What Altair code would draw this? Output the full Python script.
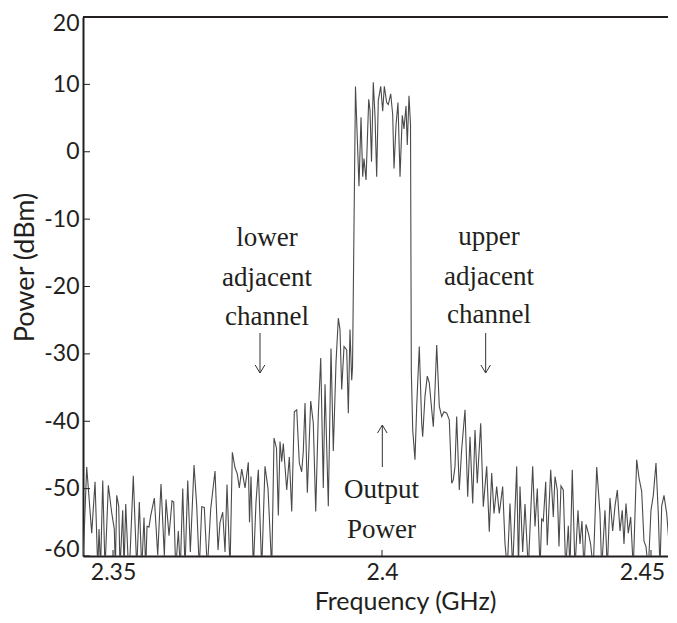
import altair as alt
import pandas as pd

# ---- spectrum trace (GHz, dBm) ----
freq = [
    2.34442, 2.34511, 2.34604, 2.34666, 2.34716, 2.34740, 2.34768, 2.34809, 2.34851, 2.34913,
    2.34976, 2.35024, 2.35043, 2.35069, 2.35106, 2.35130, 2.35180, 2.35205, 2.35236, 2.35288,
    2.35316, 2.35377, 2.35441, 2.35489, 2.35534, 2.35576, 2.35608, 2.35632, 2.35669, 2.35701,
    2.35768, 2.35831, 2.35892, 2.35954, 2.35985, 2.36041, 2.36097, 2.36128, 2.36165, 2.36214,
    2.36251, 2.36296, 2.36338, 2.36389, 2.36437, 2.36506, 2.36556, 2.36604, 2.36649, 2.36697,
    2.36753, 2.36816, 2.36896, 2.36952, 2.36989, 2.37039, 2.37082, 2.37119, 2.37175, 2.37218,
    2.37268, 2.37310, 2.37348, 2.37392, 2.37454, 2.37515, 2.37537, 2.37565, 2.37608, 2.37658,
    2.37701, 2.37764, 2.37825, 2.37881, 2.37950, 2.37993, 2.38039, 2.38073, 2.38104, 2.38136,
    2.38165, 2.38229, 2.38277, 2.38322, 2.38370, 2.38415, 2.38463, 2.38507, 2.38537, 2.38569,
    2.38612, 2.38675, 2.38723, 2.38768, 2.38816, 2.38861, 2.38909, 2.38941, 2.39002, 2.39052,
    2.39095, 2.39145, 2.39188, 2.39219, 2.39251, 2.39294, 2.39344, 2.39374, 2.39405, 2.39437,
    2.39452, 2.39507, 2.39572, 2.39610, 2.39641, 2.39665, 2.39703, 2.39753, 2.39777, 2.39805,
    2.39838, 2.39870, 2.39901, 2.39931, 2.39976, 2.40013, 2.40043, 2.40087, 2.40117, 2.40162,
    2.40199, 2.40223, 2.40260, 2.40297, 2.40335, 2.40377, 2.40409, 2.40446, 2.40470, 2.40502,
    2.40530, 2.40545, 2.40571, 2.40613, 2.40645, 2.40693, 2.40738, 2.40756, 2.40799, 2.40842,
    2.40879, 2.40924, 2.40954, 2.40985, 2.41017, 2.41065, 2.41110, 2.41152, 2.41203, 2.41251,
    2.41296, 2.41325, 2.41357, 2.41388, 2.41437, 2.41481, 2.41543, 2.41593, 2.41636, 2.41686,
    2.41729, 2.41771, 2.41835, 2.41883, 2.41946, 2.41994, 2.42039, 2.42082, 2.42132, 2.42180,
    2.42243, 2.42286, 2.42329, 2.42379, 2.42429, 2.42504, 2.42537, 2.42565, 2.42615, 2.42658,
    2.42719, 2.42801, 2.42844, 2.42887, 2.42937, 2.42968, 2.42998, 2.43043, 2.43072, 2.43136,
    2.43184, 2.43216, 2.43258, 2.43290, 2.43327, 2.43370, 2.43414, 2.43463, 2.43494, 2.43537,
    2.43587, 2.43643, 2.43680, 2.43717, 2.43755, 2.43792, 2.43842, 2.43879, 2.43927, 2.43991,
    2.44052, 2.44084, 2.44145, 2.44188, 2.44238, 2.44288, 2.44331, 2.44374, 2.44424, 2.44466,
    2.44498, 2.44535, 2.44578, 2.44623, 2.44671, 2.44734, 2.44777, 2.44827, 2.44870, 2.44907,
    2.44950, 2.45000, 2.45043, 2.45093, 2.45136, 2.45167, 2.45199, 2.45242, 2.45292, 2.45340,
    2.45385, 2.45414, 2.45452, 2.45483,
]
power = [
    -61, -46.8, -56.6, -49, -62, -56, -62, -48.8, -62, -49.5,
    -53.6, -56, -62, -51, -52.6, -62, -53.2, -62, -52.3, -62,
    -60, -48.1, -62, -52, -62, -54.3, -62, -55.6, -55.7, -54,
    -51.4, -59.9, -49.3, -60, -51.6, -57, -51.8, -52, -62, -56.3,
    -62, -50, -62, -48.8, -59.4, -46.5, -52.6, -62, -52.7, -52.8,
    -62, -53, -47.4, -59.1, -55, -53.5, -59.4, -49.4, -62, -44.6,
    -46.9, -47.8, -49.9, -47.1, -49.9, -46.1, -55, -48.2, -62, -52,
    -47.2, -62, -46.7, -50, -62, -42.5, -44, -54, -43, -46,
    -43.3, -50.2, -45.3, -53.4, -38.6, -38.3, -46.2, -47.5, -44.5, -37.3,
    -50.6, -37, -40.3, -53.4, -39, -30.6, -49.9, -34.5, -52.6, -29.2,
    -44.4, -31.3, -24.7, -26.4, -35.3, -28.9, -29.4, -38.8, -26.4, -33.9,
    -32, 9.7, -5.1, 5.1, -3.7, -1, -4.2, 7.8, 6.2, -1.5,
    10.3, 5.3, -3.7, 7.6, 9.7, 6, 9.7, 7.3, 7, 8.6,
    5.5, -2.5, 3.9, 7.3, -3.7, 5.4, 3.4, 6.8, 1, 8.3,
    4.0, -32.6, -41.3, -45.7, -37.8, -28.9, -40.3, -42.3, -36.3, -33.3,
    -34.3, -38.3, -40.8, -35.3, -28.7, -37.8, -39.3, -38.6, -38.8, -39.8,
    -49.2, -48.7, -46.7, -39.3, -50.2, -44.2, -38.3, -51.2, -42.3, -52.2,
    -41.3, -49.2, -40.3, -52.7, -46.7, -56.4, -47.7, -53.7, -49.7, -53.7,
    -49.7, -58.1, -62, -52.2, -62, -46.7, -62, -49.7, -59.4, -52.3,
    -62, -46.7, -55.6, -50, -62, -54.5, -54.8, -49, -58.4, -47.2,
    -54.2, -48.2, -50.2, -58.6, -49.6, -50.2, -62, -55.5, -62, -47.2,
    -62, -53.2, -58.2, -54.8, -62, -55.3, -56.8, -58.3, -62, -46.8,
    -53.7, -62, -53.2, -62, -51.4, -56.3, -52.6, -50.2, -56.3, -53.2,
    -58.2, -52.2, -56.6, -54.2, -62, -45.7, -48.4, -50.4, -57.8, -58.6,
    -62, -53.2, -51, -46.2, -53.7, -62, -52.6, -51, -53.7, -58.6,
    -54.2, -51.7, -58.6, -53,
]

x_ticks = [2.35, 2.4, 2.45]
y_ticks = [-60, -50, -40, -30, -20, -10, 0, 10, 20]

ann_text = ["lower", "adjacent", "channel", "upper", "adjacent", "channel", "Output", "Power"]
ann_f = [2.37862, 2.37862, 2.37862, 2.41989, 2.41989, 2.41989, 2.3999, 2.3999]
ann_p = [-14.0, -19.93, -25.71, -13.9, -19.78, -25.42, -51.39, -57.33]

arrow_f = [2.37732, 2.41927, 2.40006]
arrow_from = [-26.9, -26.9, -46.79]
arrow_to = [-32.84, -32.84, -40.56]
arrow_dir = ["down", "down", "up"]

W, H = 593, 539
INK = "#231f20"
XDOM = [2.34442, 2.45465]
YDOM = [-60, 20]

xs = alt.Scale(domain=XDOM, nice=False, zero=False)
ys = alt.Scale(domain=YDOM, nice=False, zero=False)

trace_df = pd.DataFrame({"f": freq, "p": power})
trace = alt.Chart(trace_df).mark_line(clip=True, color="#4a4a4a", strokeWidth=1.1).encode(
    x=alt.X("f:Q", scale=xs, axis=alt.Axis(
        values=x_ticks, format=".2~f", title="Frequency (GHz)",
        ticks=False, tickSize=0, grid=False, labelPadding=5,
        labelOffset={"condition": {"test": "datum.value > 2.44", "value": -9}, "value": 0},
        titleX=322, titleY=53, titleBaseline="alphabetic", titleAlign="center",
        titleFontSize=25,
    )),
    y=alt.Y("p:Q", scale=ys, axis=alt.Axis(
        values=y_ticks, labelExpr="'' + datum.value", title="Power (dBm)",
        ticks=False, tickSize=0, grid=False, labelPadding=4,
        labelFlush=True, labelFlushOffset=5,
        titleAngle=270, titleX=-50, titleY=250, titleAlign="center",
        titleBaseline="alphabetic", titleFontSize=27,
    )),
)

ytick_df = pd.DataFrame({"v": y_ticks})
xtick_df = pd.DataFrame({"v": x_ticks})
ytick_left = alt.Chart(ytick_df).mark_rule(color=INK, strokeWidth=1).encode(
    y=alt.Y("v:Q", scale=ys, axis=None), x=alt.value(0), x2=alt.value(7))
xtick = alt.Chart(xtick_df).mark_rule(color=INK, strokeWidth=1).encode(
    x=alt.X("v:Q", scale=xs, axis=None), y=alt.value(H), y2=alt.value(H - 6))
top_border = alt.Chart(pd.DataFrame({"a": [0]})).mark_rule(color=INK, strokeWidth=2).encode(
    x=alt.value(0), x2=alt.value(W), y=alt.value(0))

ann_df = pd.DataFrame({"f": ann_f, "p": ann_p, "t": ann_text})
ann = alt.Chart(ann_df).mark_text(
    font="Liberation Serif", fontSize=27, color=INK, align="center", baseline="alphabetic"
).encode(
    x=alt.X("f:Q", scale=xs, axis=None), y=alt.Y("p:Q", scale=ys, axis=None), text="t:N")

arr_df = pd.DataFrame({"f": arrow_f, "p1": arrow_from, "p2": arrow_to, "d": arrow_dir})
shafts = alt.Chart(arr_df).mark_rule(color="#333333", strokeWidth=1).encode(
    x=alt.X("f:Q", scale=xs, axis=None), y=alt.Y("p1:Q", scale=ys, axis=None), y2="p2:Q")
heads = alt.Chart(arr_df).mark_point(filled=False, color="#333333", strokeWidth=1, size=256, opacity=1).encode(
    x=alt.X("f:Q", scale=xs, axis=None), y=alt.Y("p2:Q", scale=ys, axis=None),
    shape=alt.Shape("d:N", scale=alt.Scale(domain=["down", "up"],
                    range=["M-0.6,-1L0,0L0.6,-1", "M-0.6,1L0,0L0.6,1"]), legend=None),
)

chart = alt.layer(trace, ytick_left, xtick, top_border, ann, shafts, heads).resolve_axis(
    x="independent", y="independent"
).properties(
    width=W, height=H,
    autosize=alt.AutoSizeParams(type="none"),
    padding={"left": 75, "top": 9, "right": -8, "bottom": 58},
).configure_view(stroke=None).configure_axis(
    domainColor=INK, domainWidth=2, labelFont="Lato", labelFontSize=23, labelColor=INK,
    titleFont="Lato", titleFontWeight="normal", titleColor=INK,
)

chart.save("out.html", embed_options={"renderer": "svg", "actions": False})
